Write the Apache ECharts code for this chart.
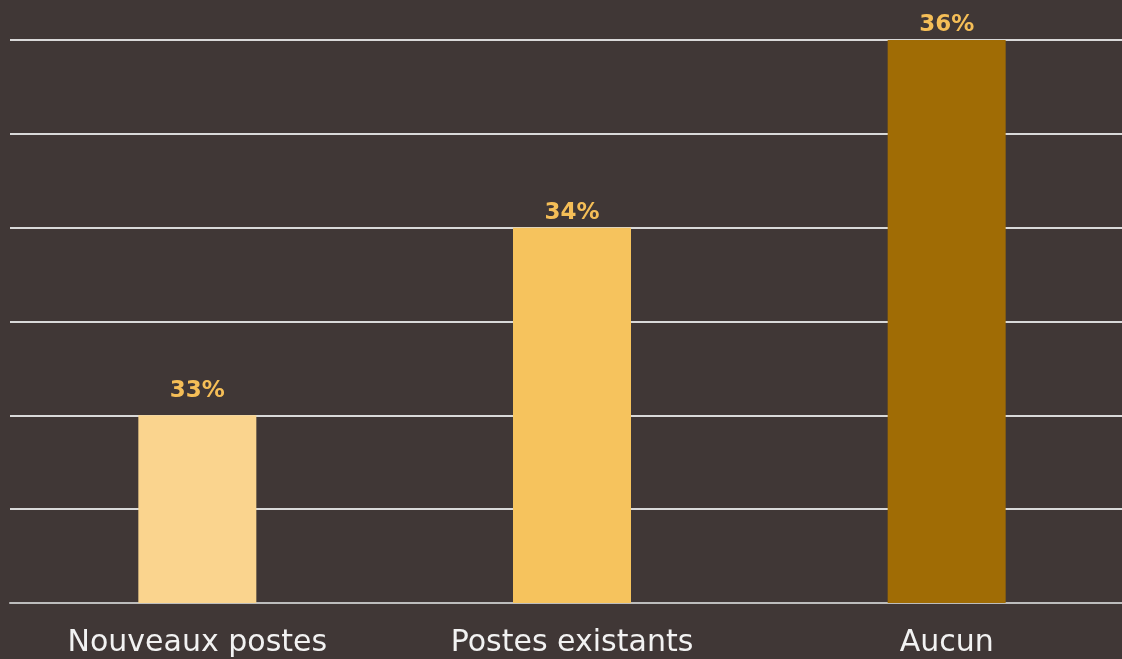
<!DOCTYPE html>
<html><head><meta charset="utf-8">
<script src="https://cdn.jsdelivr.net/npm/echarts@6/dist/echarts.min.js"></script>
<style>html,body{margin:0;padding:0;background:#403736;overflow:hidden;width:1122px;height:659px;}#c{width:1134px;height:659px;}</style>
</head><body><div id="c"></div>
<script>
var categories = ['Nouveaux postes', 'Postes existants', 'Aucun'];
var values = [32.9, 34.3, 35.7];
var barColors = ['#FAD48E', '#F6C35D', '#A06C05'];

var labelGaps = [13, 3, 3];
var chart = echarts.init(document.getElementById('c'), null, {renderer: 'canvas'});
chart.setOption({
  backgroundColor: '#403736',
  animation: false,
  grid: {left: 10, right: 0, top: 40, bottom: 56, containLabel: false},
  xAxis: {
    type: 'category', data: categories,
    axisLine: {show: true, lineStyle: {color: '#BDBDBD', width: 2}},
    axisTick: {show: false},
    axisLabel: {color: '#F2F2F2', fontSize: 30, fontFamily: 'DejaVu Sans', fontWeight: 'normal', margin: 25}
  },
  yAxis: {
    type: 'value', min: 31.5, max: 35.7, interval: 0.7,
    axisLine: {show: false}, axisTick: {show: false}, axisLabel: {show: false},
    splitLine: {lineStyle: {color: '#D9D9D9', width: 2}}
  },
  series: [{
    type: 'bar', barWidth: 118,
    data: values.map(function (v, i) {
      return {value: v, itemStyle: {color: barColors[i]}, label: {distance: labelGaps[i]}};
    }),
    label: {show: true, position: 'top', color: '#F5BE57', fontSize: 23, fontWeight: 'bold', fontFamily: 'DejaVu Sans',
      formatter: function (p) { return Math.round(p.value) + '%'; }}
  }]
});
</script></body></html>
